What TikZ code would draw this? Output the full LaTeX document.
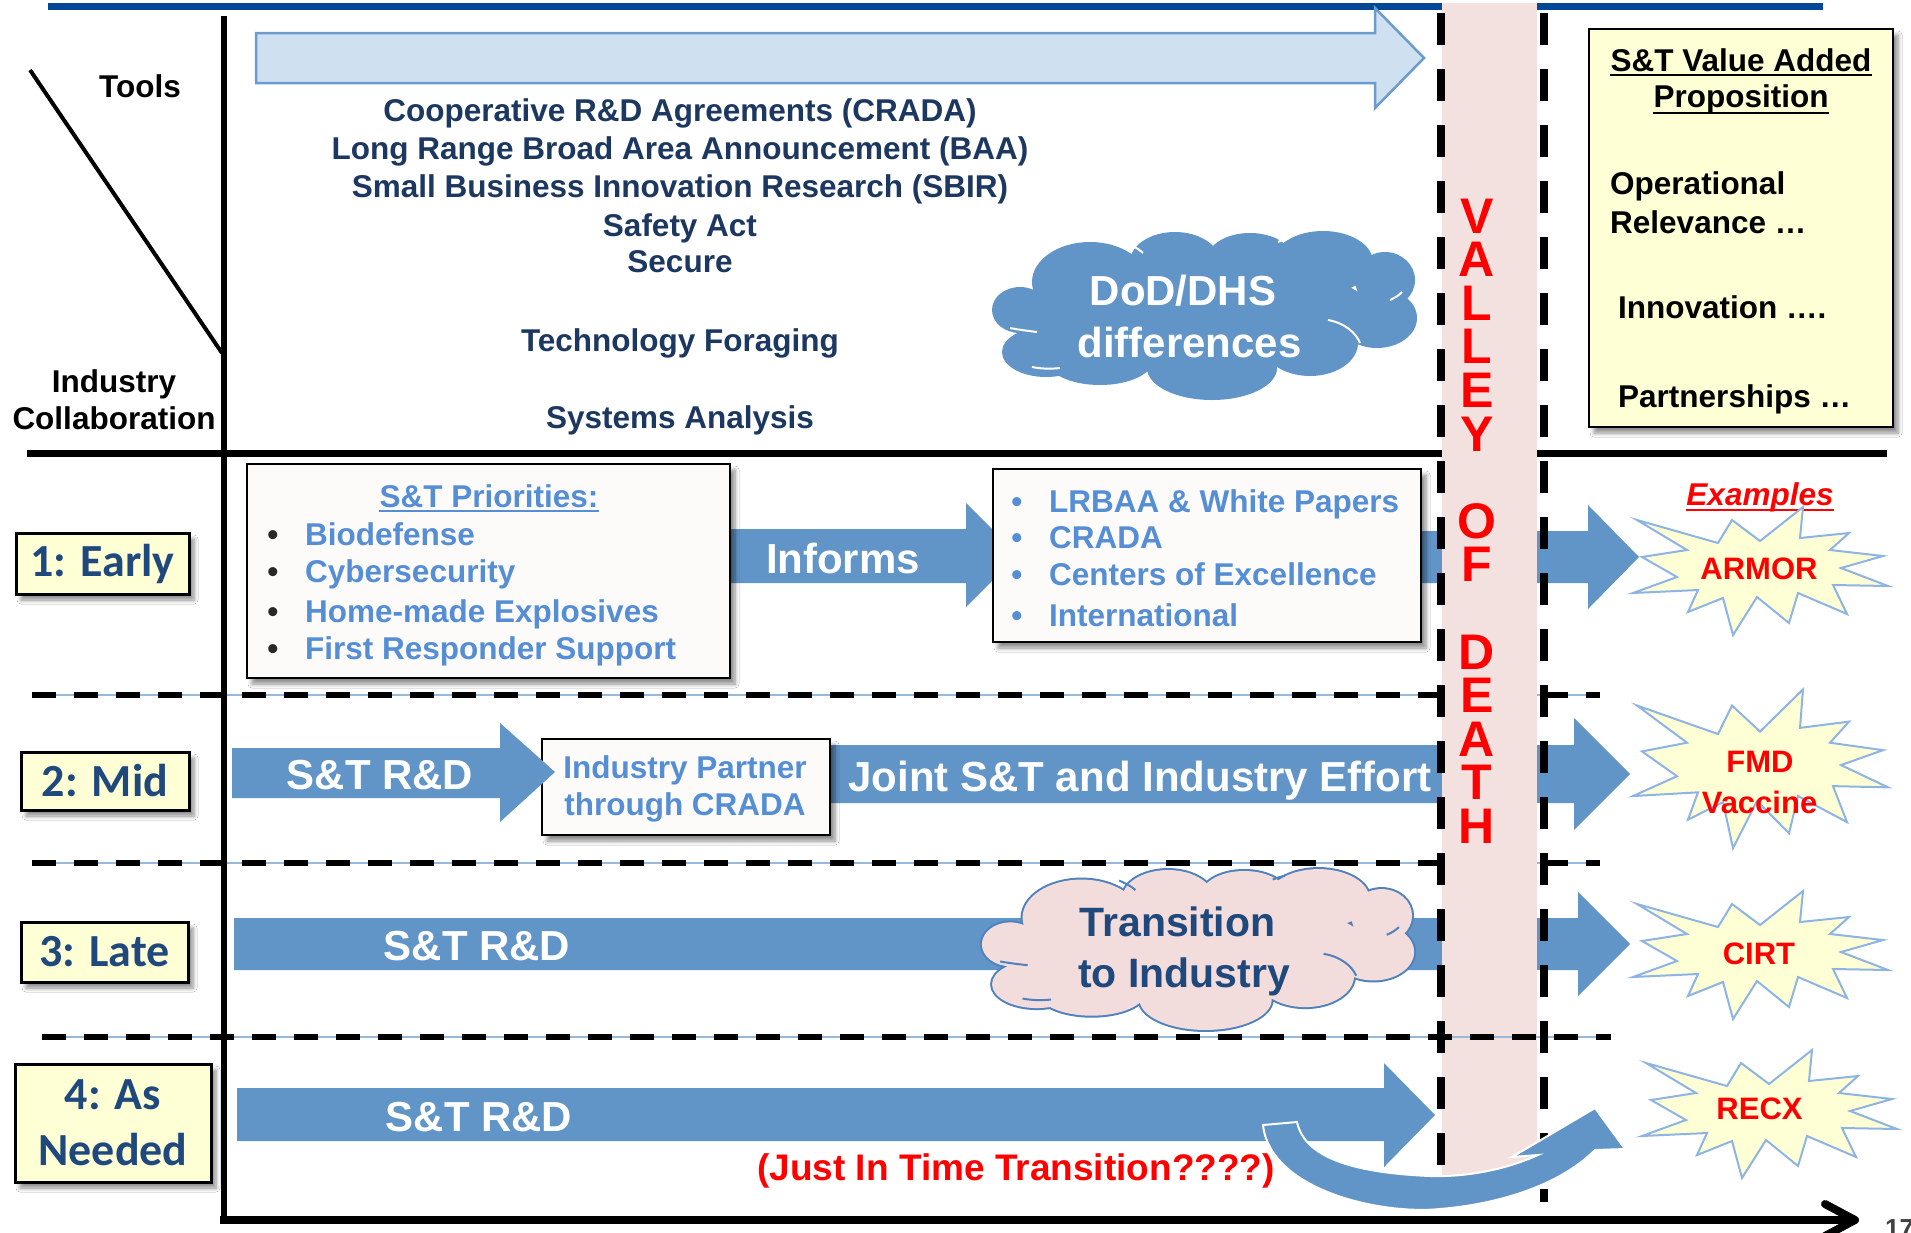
\documentclass[tikz,border=0pt]{standalone}
\usepackage{fontspec}
\setmainfont{Liberation Sans}
\newfontfamily\calibfont{Carlito}
\usetikzlibrary{shadows.blur}
\definecolor{topblue}{RGB}{3,71,151}
\definecolor{toolnavy}{RGB}{28,55,96}
\definecolor{labnavy}{RGB}{31,73,125}
\definecolor{prioblue}{RGB}{85,142,213}
\definecolor{arrowblue}{RGB}{97,149,200}
\definecolor{lightarrow}{RGB}{207,224,241}
\definecolor{lightedge}{RGB}{108,155,205}
\definecolor{pinkband}{RGB}{243,225,224}
\definecolor{labyellow}{RGB}{255,255,213}
\definecolor{boxwhite}{RGB}{252,251,250}
\definecolor{burstblue}{RGB}{141,180,226}
\definecolor{thinline}{RGB}{150,185,220}
\definecolor{cloudpink}{RGB}{242,221,220}
\definecolor{cloudedge}{RGB}{79,129,189}
\definecolor{bulletgray}{RGB}{40,40,40}
\definecolor{pagegray}{RGB}{64,64,64}
\tikzset{
  burst/.pic={\path[burststyle] (-124,-52) -- (-43,-29) -- (-29,-52) -- (-1,-31) -- (42,-65) -- (39,-34) -- (88,-39) -- (69,-22) -- (122,-16) -- (80,-4) -- (127,14) -- (72,13) -- (86,42) -- (37,21) -- (28,51) -- (-4,25) -- (-28,63) -- (-38,26) -- (-73,40) -- (-63,18) -- (-128,21) -- (-84,5) -- (-119,-15) -- (-74,-22) -- cycle;},
  cloudlobes/.pic={\path[pic actions]
    (-185,-6) ellipse [x radius=28, y radius=23]
    (-159,36) ellipse [x radius=44, y radius=25]
    (-115,-34) ellipse [x radius=58, y radius=40]
    (-30,-54) ellipse [x radius=45, y radius=30]
    (45,-58) ellipse [x radius=42, y radius=25]
    (118,-54) ellipse [x radius=50, y radius=31]
    (180,-36) ellipse [x radius=30, y radius=28]
    (172,2) ellipse [x radius=40, y radius=30]
    (105,27) ellipse [x radius=48, y radius=33]
    (7,52) ellipse [x radius=65, y radius=32]
    (-105,44) ellipse [x radius=53, y radius=25]
    (0,0) ellipse [x radius=170, y radius=55];},
  cloudarcs/.pic={\path[pic actions]
    (123,4) .. controls (140,7) and (151,17) .. (155,27)
    (-195,12) .. controls (-185,14) and (-176,15) .. (-168,16)
    (-173,51) .. controls (-163,53) and (-153,53) .. (-145,52)
    (-78,-73) .. controls (-72,-70) and (-66,-67) .. (-62,-63)
    (185,-16) .. controls (190,-18) and (194,-21) .. (197,-24)
    (73,-74) .. controls (77,-76) and (81,-77) .. (85,-78);}
}
\begin{document}
\begin{tikzpicture}[x=1pt,y=-1pt,
  txt/.style={inner sep=0pt, font=\bfseries\fontsize{31.5}{36}\selectfont},
  navytxt/.style={txt, text=toolnavy, anchor=base},
  blk/.style={txt, text=black, anchor=base},
  prio/.style={txt, text=prioblue, anchor=base west},
  bul/.style={txt, anchor=base},
  wbig/.style={inner sep=0pt, anchor=base, text=white, font=\bfseries\fontsize{42}{48}\selectfont},
  shadowed/.style={blur shadow={shadow xshift=5pt, shadow yshift=-6pt, shadow blur radius=4pt, shadow blur steps=6, shadow opacity=45}},
  rowlab/.style={draw=black, line width=3pt, fill=labyellow, inner sep=0pt, text=labnavy, align=center, font=\calibfont\bfseries\fontsize{46}{56}\selectfont, shadowed},
  whitebox/.style={draw=black, line width=2.5pt, fill=boxwhite, inner sep=0pt, shadowed},
  yellowbox/.style={draw=black, line width=2.5pt, fill=labyellow, inner sep=0pt, shadowed},
  blockarrow/.style={fill=arrowblue, draw=none},
  rowdash/.style={line width=5.5pt, dash pattern=on 24pt off 18pt},
  thinblue/.style={line width=1.2pt, draw=thinline},
  vdash/.style={line width=8pt, dash pattern=on 32pt off 24pt},
  burststyle/.style={fill=labyellow, draw=burstblue, line width=2pt, line join=miter},
  redtxt/.style={inner sep=0pt, anchor=base, text=red, font=\bfseries\fontsize{31}{36}\selectfont},
  valley/.style={inner sep=0pt, anchor=base, text=red, text height=36pt, text depth=0pt, font=\bfseries\fontsize{50}{50}\selectfont},
  navybig/.style={inner sep=0pt, anchor=base, text=labnavy, font=\bfseries\fontsize{41}{46}\selectfont}
]
\useasboundingbox (0,0) rectangle (1911,1232);
\fill[white] (0,0) rectangle (1911,1232);

% top line and separators
\draw[line width=7pt, draw=topblue] (48,6) -- (1823,6);
\draw[line width=7pt] (27,453) -- (1887,453);
\draw[thinblue] (32,695) -- (1600,695);
\draw[rowdash] (32,695) -- (1600,695);
\draw[thinblue] (32,863) -- (1600,863);
\draw[rowdash] (32,863) -- (1600,863);

% block arrows
\fill[blockarrow] (731,529) -- (966,529) -- (966,503) -- (1018,555) -- (966,607) -- (966,583) -- (731,583) -- cycle;
\fill[blockarrow] (1380,531) -- (1588,531) -- (1588,505) -- (1639,557) -- (1588,609) -- (1588,583) -- (1380,583) -- cycle;
\fill[blockarrow] (820,745) -- (1574,745) -- (1574,718) -- (1630,774) -- (1574,830) -- (1574,803) -- (820,803) -- cycle;
\fill[blockarrow] (234,918) -- (1578,918) -- (1578,892) -- (1630,944) -- (1578,996) -- (1578,970) -- (234,970) -- cycle;
\fill[blockarrow] (237,1088) -- (1384,1088) -- (1384,1063) -- (1435,1115) -- (1384,1167) -- (1384,1141) -- (237,1141) -- cycle;

% valley band
\fill[pinkband] (1442,3) rectangle (1537,1176);
\draw[thinblue] (42,1037) -- (1611,1037);
\draw[rowdash] (42,1037) -- (1611,1037);
\draw[vdash] (1441,13) -- (1441,1165);
\draw[vdash] (1544,13) -- (1544,1202);

% tools arrow
\filldraw[fill=lightarrow, draw=lightedge, line width=2.5pt, line join=miter] (256,33) -- (1375,33) -- (1375,8) -- (1424,58) -- (1375,108) -- (1375,83) -- (256,83) -- cycle;

% tools text
\node[blk] (tools) at (140,97) {Tools};
\node[blk] (ind1) at (114,392) {Industry};
\node[blk] (ind2) at (114,429) {Collaboration};
\node[navytxt] (t1) at (680,121) {Cooperative R\&D Agreements (CRADA)};
\node[navytxt] (t2) at (680,159) {Long Range Broad Area Announcement (BAA)};
\node[navytxt] (t3) at (680,197) {Small Business Innovation Research (SBIR)};
\node[navytxt] (t4) at (680,236) {Safety Act};
\node[navytxt] (t5) at (680,272) {Secure};
\node[navytxt] (t6) at (680,351) {Technology Foraging};
\node[navytxt] (t7) at (680,428) {Systems Analysis};

% DoD cloud
\pic[fill=arrowblue] at (1205,316) {cloudlobes};
\pic[draw=white, line width=2pt] at (1205,316) {cloudarcs};
\node[wbig] (dod1) at (1183,305) {DoD/DHS};
\node[wbig] (dod2) at (1189.5,357) {differences};

% value box
\node[yellowbox, minimum width=304pt, minimum height=398pt] (valbox) at (1741,228) {};
\node[blk] (vh1) at (1741,71) {S\&T Value Added};
\node[blk] (vh2) at (1741,107) {Proposition};
\draw[line width=2.5pt] ([yshift=-4pt]vh1.base west) -- ([yshift=-4pt]vh1.base east);
\draw[line width=2.5pt] ([yshift=-6pt]vh2.base west) -- ([yshift=-6pt]vh2.base east);
\node[blk, anchor=base west] (v1) at (1610,194) {Operational};
\node[blk, anchor=base west] (v2) at (1610,233) {Relevance …};
\node[blk, anchor=base west] (v3) at (1618,318) {Innovation ….};
\node[blk, anchor=base west] (v4) at (1618,407) {Partnerships …};

% row labels
\node[rowlab, minimum width=173pt, minimum height=61pt] (r1) at (102.5,563.5) {1: Early};
\node[rowlab, minimum width=168pt, minimum height=58pt] (r2) at (105,781) {2: Mid};
\node[rowlab, minimum width=167pt, minimum height=60pt] (r3) at (104.5,952) {3: Late};
\node[rowlab, minimum width=196pt, minimum height=118pt] (r4) at (113,1123) {4: As\\Needed};

% priorities box
\node[whitebox, minimum width=483pt, minimum height=214pt] (prbox) at (488.5,571) {};
\node[prio, anchor=base] (prh) at (489,507) {S\&T Priorities:};
\draw[prioblue, line width=2pt] ([yshift=-4pt]prh.base west) -- ([yshift=-4pt]prh.base east);
\node[bul, text=bulletgray] (pb1) at (273,545) {•};
\node[bul, text=bulletgray] (pb2) at (273,582) {•};
\node[bul, text=bulletgray] (pb3) at (273,622) {•};
\node[bul, text=bulletgray] (pb4) at (273,659) {•};
\node[prio] (p1) at (305,545) {Biodefense};
\node[prio] (p2) at (305,582) {Cybersecurity};
\node[prio] (p3) at (305,622) {Home-made Explosives};
\node[prio] (p4) at (305,659) {First Responder Support};

% LRBAA box
\node[whitebox, minimum width=428pt, minimum height=173pt] (lrbox) at (1207,555.5) {};
\node[bul, text=prioblue] (lb1) at (1017,512) {•};
\node[bul, text=prioblue] (lb2) at (1017,548) {•};
\node[bul, text=prioblue] (lb3) at (1017,585) {•};
\node[bul, text=prioblue] (lb4) at (1017,626) {•};
\node[prio] (l1) at (1049,512) {LRBAA \& White Papers};
\node[prio] (l2) at (1049,548) {CRADA};
\node[prio] (l3) at (1049,585) {Centers of Excellence};
\node[prio] (l4) at (1049,626) {International};
\node[wbig] (inf) at (843,573) {Informs};

% row 2
\node[whitebox, minimum width=288pt, minimum height=96pt] (ipbox) at (686,787) {};
\node[prio, anchor=base] (ip1) at (685,778) {Industry Partner};
\node[prio, anchor=base] (ip2) at (685,815) {through CRADA};
\fill[blockarrow] (232,748) -- (500,748) -- (500,723) -- (555,772) -- (500,822) -- (500,798) -- (232,798) -- cycle;
\node[wbig] (sr2) at (380,789) {S\&T R\&D};
\node[wbig] (joint) at (1140,791) {Joint S\&T and Industry Effort};

% row 3
\node[wbig] (sr3) at (477,960) {S\&T R\&D};
\pic[fill=cloudpink, draw=cloudedge, line width=4pt, xscale=1.017, yscale=0.952] at (1198.5,950) {cloudlobes};
\pic[fill=cloudpink, xscale=1.017, yscale=0.952] at (1198.5,950) {cloudlobes};
\pic[draw=cloudedge, line width=2pt, xscale=1.017, yscale=0.952] at (1198.5,950) {cloudarcs};
\node[navybig] (tr1) at (1177.5,936) {Transition};
\node[navybig] (tr2) at (1184,987) {to Industry};

% row 4
\node[wbig] (sr4) at (479,1131) {S\&T R\&D};
\node[redtxt, font=\bfseries\fontsize{37}{42}\selectfont] (jit) at (1016,1180) {(Just In Time Transition????)};
\filldraw[fill=arrowblue, draw=white, line width=2pt, line join=miter]
  (1263,1125) .. controls (1270,1190) and (1380,1215) .. (1440,1209)
  .. controls (1500,1204) and (1560,1185) .. (1595,1150)
  -- (1625,1149) -- (1595,1108) -- (1512,1157) -- (1538,1155)
  .. controls (1500,1172) and (1460,1177) .. (1430,1176)
  .. controls (1360,1173) and (1305,1160) .. (1297,1122) -- cycle;

% valley of death
\foreach \l/\r in {V/0,A/1,L/2,L/3,E/4,Y/5,O/7,F/8,D/10,E/11,A/12,T/13,H/14}
  \node[valley] (vd\r) at (1477,{233+43.6*\r}) {\l};

% examples
\node[redtxt, font=\bfseries\itshape\fontsize{31.5}{36}\selectfont] (ex) at (1760,505) {Examples};
\draw[red, line width=2.5pt] ([yshift=-5pt]ex.base west) -- ([yshift=-5pt]ex.base east);
\pic at (1761,572) {burst};
\pic[yscale=1.24] at (1761,770) {burst};
\pic at (1761,956) {burst};
\pic at (1770,1115) {burst};
\node[redtxt] (armor) at (1759,579) {ARMOR};
\node[redtxt] (fmd1) at (1760,772) {FMD};
\node[redtxt] (fmd2) at (1759.5,813) {Vaccine};
\node[redtxt] (cirt) at (1759,964) {CIRT};
\node[redtxt] (recx) at (1759.5,1119) {RECX};

% axes
\draw[line width=4pt] (30,70) -- (222,353);
\draw[line width=6.5pt] (224,16) -- (224,1223);
\draw[line width=8pt] (220,1220) -- (1850,1220);
\draw[line width=8pt, line cap=round, line join=round] (1825,1204) -- (1855,1220) -- (1825,1236);
\node[inner sep=0pt, anchor=base west, text=pagegray, font=\bfseries\fontsize{26}{30}\selectfont] (pg) at (1885,1237) {17};
\end{tikzpicture}
\end{document}
